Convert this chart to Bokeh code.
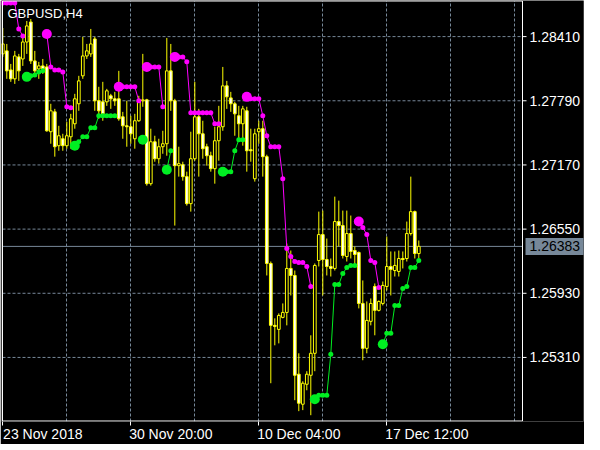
from bokeh.plotting import figure
from bokeh.models import (Range1d, LinearAxis, FixedTicker, Grid, Label, ColumnDataSource)
from bokeh.core.properties import value
from bokeh.embed import file_html
from bokeh.resources import INLINE

symbol = "GBPUSD,H4"
last_price = 1.26383
price_ticks = [1.25310, 1.25930, 1.26550, 1.27170, 1.27790, 1.28410]
date_labels = ["23 Nov 2018", "30 Nov 20:00", "10 Dec 04:00", "17 Dec 12:00"]
date_label_bars = [0, 32, 64, 96]

open_ = [1.28243, 1.28272, 1.28088, 1.28002, 1.28214, 1.28194, 1.28358, 1.28551, 1.28175, 1.28098,
         1.28127, 1.28117, 1.27491, 1.27683, 1.27356, 1.27423, 1.27356, 1.27442, 1.27568, 1.27761,
         1.28031, 1.28223, 1.28243, 1.28387, 1.27790, 1.27780, 1.27780, 1.27838, 1.27809, 1.27809,
         1.27635, 1.27548, 1.27539, 1.27423, 1.27597, 1.27790, 1.27799, 1.26989, 1.27394, 1.27230,
         1.27346, 1.27375, 1.28079, 1.27790, 1.27163, 1.27172, 1.27057, 1.26796, 1.27230, 1.27635,
         1.27471, 1.27346, 1.27259, 1.27134, 1.27404, 1.27539, 1.27934, 1.27818, 1.27761, 1.27645,
         1.27568, 1.27693, 1.27317, 1.27037, 1.27491, 1.27520, 1.27250, 1.26218, 1.25620, 1.25581,
         1.25697, 1.25745, 1.26170, 1.26102, 1.25148, 1.24858, 1.25051, 1.25138, 1.25350, 1.26247,
         1.26497, 1.26256, 1.26189, 1.26170, 1.26623, 1.26584, 1.26285, 1.26507, 1.26343, 1.26324,
         1.25832, 1.25398, 1.25659, 1.25996, 1.25765, 1.25832, 1.25996, 1.26189, 1.26150, 1.26141,
         1.26266, 1.26266, 1.26507, 1.26719, 1.26314]
high = [1.28493, 1.28339, 1.28146, 1.28272, 1.28243, 1.28407, 1.28561, 1.28580, 1.28272, 1.28166,
        1.28194, 1.28146, 1.27761, 1.27712, 1.27548, 1.27471, 1.27587, 1.27664, 1.27857, 1.28031,
        1.28407, 1.28339, 1.28484, 1.28407, 1.27925, 1.27973, 1.27905, 1.27857, 1.27876, 1.28079,
        1.27683, 1.27790, 1.27645, 1.27664, 1.27838, 1.28243, 1.27809, 1.27520, 1.27452, 1.27423,
        1.27500, 1.28397, 1.28339, 1.27809, 1.27346, 1.27201, 1.27105, 1.27491, 1.27973, 1.27712,
        1.27597, 1.27375, 1.27298, 1.27539, 1.27741, 1.28117, 1.27982, 1.27876, 1.27780, 1.27741,
        1.27741, 1.27732, 1.27520, 1.27520, 1.27597, 1.27597, 1.27269, 1.26237, 1.25688, 1.25736,
        1.25832, 1.26411, 1.26343, 1.26150, 1.25350, 1.25080, 1.25177, 1.25524, 1.26218, 1.26719,
        1.26729, 1.26459, 1.26266, 1.26864, 1.26825, 1.26729, 1.26729, 1.26681, 1.26382, 1.26334,
        1.26054, 1.25851, 1.25880, 1.26025, 1.25861, 1.26044, 1.26478, 1.26334, 1.26334, 1.26343,
        1.26334, 1.26623, 1.27057, 1.26729, 1.26440]
low = [1.28214, 1.28002, 1.27973, 1.27953, 1.27982, 1.28127, 1.28243, 1.28146, 1.28021, 1.28002,
       1.28050, 1.27491, 1.27375, 1.27250, 1.27307, 1.27307, 1.27327, 1.27327, 1.27520, 1.27693,
       1.28002, 1.28194, 1.28214, 1.27693, 1.27616, 1.27597, 1.27741, 1.27712, 1.27741, 1.27597,
       1.27423, 1.27346, 1.27375, 1.27327, 1.27587, 1.27732, 1.26970, 1.26970, 1.27201, 1.27182,
       1.27278, 1.27259, 1.27693, 1.26584, 1.27057, 1.27018, 1.26777, 1.26719, 1.27211, 1.27057,
       1.27230, 1.27163, 1.27105, 1.26989, 1.27211, 1.27500, 1.27712, 1.27683, 1.27452, 1.27423,
       1.27356, 1.27105, 1.27201, 1.27009, 1.27375, 1.27057, 1.26102, 1.25061, 1.25427, 1.25446,
       1.25688, 1.25620, 1.25909, 1.24897, 1.24791, 1.24801, 1.24993, 1.24752, 1.25177, 1.26189,
       1.25909, 1.26102, 1.26092, 1.26150, 1.26382, 1.26266, 1.26237, 1.26266, 1.26189, 1.25784,
       1.25283, 1.25350, 1.25620, 1.25524, 1.25755, 1.25813, 1.25958, 1.25909, 1.26092, 1.26092,
       1.26170, 1.26237, 1.26488, 1.26266, 1.26266]
close = [1.28339, 1.28079, 1.28002, 1.28223, 1.28079, 1.28358, 1.28513, 1.28175, 1.28079, 1.28127,
         1.28098, 1.27500, 1.27693, 1.27346, 1.27452, 1.27356, 1.27452, 1.27616, 1.27809, 1.27982,
         1.28223, 1.28272, 1.28339, 1.27790, 1.27693, 1.27664, 1.27886, 1.27809, 1.27790, 1.27616,
         1.27548, 1.27539, 1.27471, 1.27597, 1.27790, 1.27799, 1.26989, 1.27394, 1.27230, 1.27346,
         1.27375, 1.28079, 1.27790, 1.27163, 1.27182, 1.27057, 1.26796, 1.27230, 1.27635, 1.27471,
         1.27327, 1.27259, 1.27134, 1.27404, 1.27539, 1.27934, 1.27828, 1.27761, 1.27664, 1.27568,
         1.27712, 1.27307, 1.27307, 1.27471, 1.27520, 1.27250, 1.26218, 1.25620, 1.25610, 1.25716,
         1.25745, 1.26170, 1.26102, 1.25138, 1.24868, 1.25061, 1.25148, 1.25350, 1.26199, 1.26497,
         1.26256, 1.26189, 1.26170, 1.26623, 1.26584, 1.26295, 1.26507, 1.26334, 1.26305, 1.25832,
         1.25398, 1.25668, 1.25832, 1.25765, 1.25851, 1.26006, 1.26189, 1.26160, 1.26199, 1.26266,
         1.26256, 1.26507, 1.26719, 1.26314, 1.26383]

# trailing-stop indicator: value per bar and direction (+1 up / -1 down)
sar = [1.28734, 1.28734, 1.28734, 1.28734, 1.28484, 1.28416, 1.28021, 1.28031, 1.28040, 1.28069,
       1.28079, 1.28436, 1.28117, 1.28088, 1.28088, 1.28069, 1.27732, 1.27722, 1.27356, 1.27394,
       1.27442, 1.27442, 1.27529, 1.27529, 1.27645, 1.27645, 1.27645, 1.27645, 1.27645, 1.27925,
       1.27925, 1.27925, 1.27925, 1.27925, 1.27790, 1.27413, 1.28117, 1.28117, 1.28117, 1.28117,
       1.27732, 1.27124, 1.27307, 1.28214, 1.28214, 1.28214, 1.28166, 1.27674, 1.27674, 1.27674,
       1.27674, 1.27674, 1.27674, 1.27568, 1.27568, 1.27105, 1.27105, 1.27105, 1.27307, 1.27413,
       1.27413, 1.27828, 1.27809, 1.27809, 1.27809, 1.27645, 1.27452, 1.27346, 1.27346, 1.27346,
       1.27037, 1.26362, 1.26285, 1.26237, 1.26228, 1.26228, 1.26189, 1.25996, 1.24907, 1.24945,
       1.24945, 1.24945, 1.25340, 1.26015, 1.26015, 1.26121, 1.26179, 1.26199, 1.26199, 1.26623,
       1.26565, 1.26497, 1.26247, 1.26228, 1.25986, 1.25437, 1.25543, 1.25543, 1.25813, 1.25813,
       1.25977, 1.25996, 1.26179, 1.26179, 1.26247]
sar_dir = [-1, -1, -1, -1, -1, -1, 1, 1, 1, 1,
           1, -1, -1, -1, -1, -1, -1, -1, 1, 1,
           1, 1, 1, 1, 1, 1, 1, 1, 1, -1,
           -1, -1, -1, -1, -1, 1, -1, -1, -1, -1,
           -1, 1, 1, -1, -1, -1, -1, -1, -1, -1,
           -1, -1, -1, -1, -1, 1, 1, 1, 1, 1,
           1, -1, -1, -1, -1, -1, -1, -1, -1, -1,
           -1, -1, -1, -1, -1, -1, -1, -1, 1, 1,
           1, 1, 1, 1, 1, 1, 1, 1, 1, -1,
           -1, -1, -1, -1, -1, 1, 1, 1, 1, 1,
           1, 1, 1, 1, 1]

YELLOW = "#FFFF00"
GRIDC = "#778899"
MAG = "#FF00FF"
GRN = "#00EE22"
FONT = "Liberation Sans"

# chart geometry (4 px per bar)
PX_BAR = 4.0
FRAME_W = 582
FRAME_H = 421
X_LEFT = -0.075          # left border of the price area (bar units)
X_RIGHT = 129.925        # right border of the price area
Y_TOP = 1.28754
Y_BOT = 1.24696
PX_PRICE = (Y_TOP - Y_BOT) / 420.0
x_start = X_LEFT - 0.25
y_end = Y_TOP + PX_PRICE * 0.5
y_start = Y_BOT - PX_PRICE * 0.5

n = len(close)
xs = list(range(n))
src = ColumnDataSource(dict(
    x=xs, high=high, low=low,
    top=[max(o, c) for o, c in zip(open_, close)],
    bottom=[min(o, c) for o, c in zip(open_, close)],
    fill=["white" if c < o else "black" for o, c in zip(open_, close)],
))

x_end = x_start + FRAME_W / PX_BAR
p = figure(frame_width=FRAME_W, frame_height=FRAME_H,
           x_range=Range1d(x_start, x_end), y_range=Range1d(y_start, y_end),
           x_axis_type=None, y_axis_type=None,
           toolbar_location=None, output_backend="svg",
           background_fill_color="black", border_fill_color="black",
           outline_line_color=None,
           min_border_left=1, min_border_top=0, min_border_right=1, min_border_bottom=0)

ppx = (y_end - y_start) / FRAME_H   # price per screen pixel

# vertical grid (every 16 bars)
p.add_layout(Grid(dimension=0, ticker=FixedTicker(ticks=list(range(16, 130, 16))),
                  grid_line_color=GRIDC, grid_line_dash="3 2", grid_line_width=1))
# horizontal grid, only across the price area
p.segment(x0=[X_LEFT] * len(price_ticks), y0=price_ticks,
          x1=[X_RIGHT] * len(price_ticks), y1=price_ticks,
          line_color=GRIDC, line_dash="3 2", line_width=1)

# last price line
p.segment(x0=[X_LEFT], y0=[last_price], x1=[X_RIGHT], y1=[last_price],
          line_color=GRIDC, line_width=1)

# candles
p.segment(x0="x", y0="low", x1="x", y1="high", line_color=YELLOW, line_width=1, source=src)
p.vbar(x="x", width=0.68, top="top", bottom="bottom", fill_color="fill",
       line_color=YELLOW, line_width=1, source=src)

# indicator lines
for d, col in ((-1, MAG), (1, GRN)):
    x0, y0, x1, y1 = [], [], [], []
    for i in range(1, n):
        if sar_dir[i] == d and sar_dir[i - 1] == d:
            x0.append(i - 1); y0.append(sar[i - 1]); x1.append(i); y1.append(sar[i])
    p.segment(x0=x0, y0=y0, x1=x1, y1=y1, line_color=col, line_width=1)

# dots
for d, col in ((-1, MAG), (1, GRN)):
    idx = [i for i in range(n) if sar_dir[i] == d]
    p.scatter(x=idx, y=[sar[i] for i in idx], size=5, fill_color=col, line_color=None)
    big = [i for i in idx if i > 0 and sar_dir[i - 1] != d]
    p.scatter(x=big, y=[sar[i] for i in big], size=10, fill_color=col, line_color=None)

# frame border of the price area
p.segment(x0=[X_LEFT, X_LEFT, X_RIGHT, X_LEFT], y0=[Y_BOT, Y_TOP, Y_BOT, Y_BOT],
          x1=[X_LEFT, X_RIGHT, X_RIGHT, X_RIGHT], y1=[Y_TOP, Y_TOP, Y_TOP, Y_BOT],
          line_color="white", line_width=1)

# right price scale
tick_len = 4 / PX_BAR
p.segment(x0=[X_RIGHT] * len(price_ticks), y0=price_ticks,
          x1=[X_RIGHT + tick_len] * len(price_ticks), y1=price_ticks,
          line_color="white", line_width=1)
p.text(x=[X_RIGHT + 7 / PX_BAR] * len(price_ticks), y=price_ticks,
       text=[f"{t:.5f}" for t in price_ticks], text_color="white",
       text_font=value(FONT), text_font_size="14px",
       text_baseline="middle", text_align="left")

# current price box
p.quad(left=[X_RIGHT + 3 / PX_BAR], right=[X_RIGHT + 63 / PX_BAR],
       bottom=[last_price - 8.5 * ppx], top=[last_price + 8.5 * ppx],
       fill_color=GRIDC, line_color=None)
p.text(x=[X_RIGHT + 7 / PX_BAR], y=[last_price], text=[f"{last_price:.5f}"],
       text_color="black", text_font=value(FONT), text_font_size="14px",
       text_baseline="middle", text_align="left")

# time axis
label_pos = [b + 10 for b in date_label_bars]
xaxis = LinearAxis(ticker=FixedTicker(ticks=label_pos, minor_ticks=date_label_bars),
                   major_label_overrides={pos: lab for pos, lab in zip(label_pos, date_labels)},
                   axis_line_color=None, major_tick_line_color=None,
                   major_tick_out=0, major_tick_in=0,
                   minor_tick_line_color="white", minor_tick_out=4, minor_tick_in=0,
                   major_label_text_color="white", major_label_text_font=FONT,
                   major_label_text_font_size="14px", major_label_standoff=0)
p.add_layout(xaxis, "below")

# symbol label
p.add_layout(Label(x=X_LEFT + 5 / PX_BAR, y=Y_TOP - 5 * ppx, text=symbol, text_color="white",
                   text_font=FONT, text_font_size="13px", text_baseline="top"))

open("out.html", "w").write(file_html(p, INLINE))
